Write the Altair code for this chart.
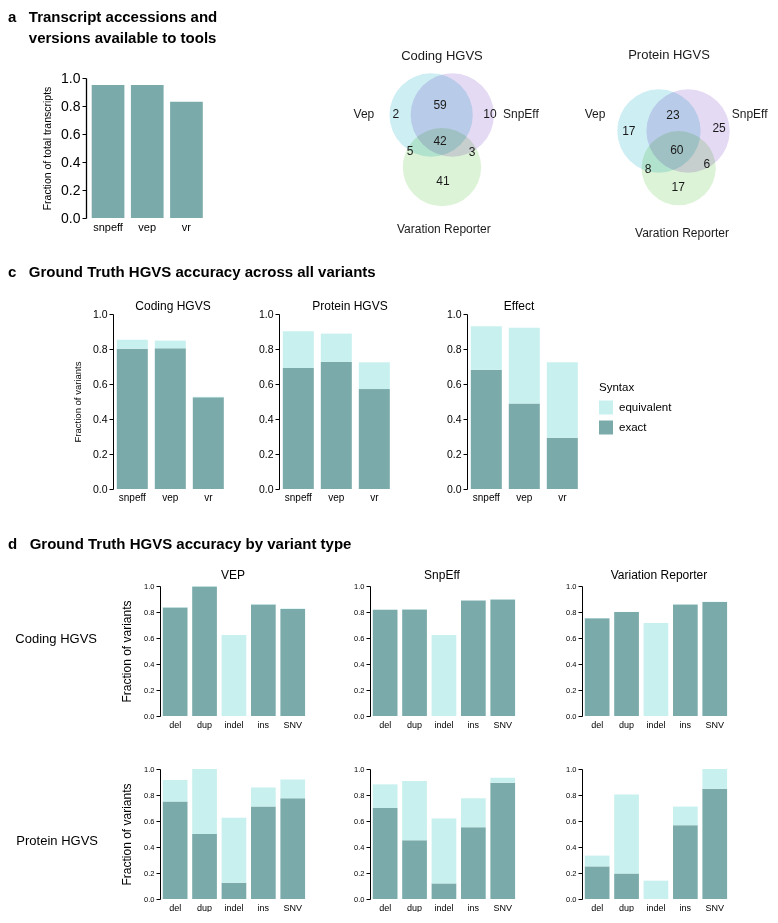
import math
import altair as alt
import pandas as pd

FONT = "Liberation Sans"
EXACT = "#7AABAA"
EQUIV = "#C8F0EE"
NB = "\u00a0"
ZW = "\u200b"

# ---------------- data ----------------
# panel a
a_tools = ["snpeff", "vep", "vr"]
a_fraction = [0.95, 0.95, 0.83]

# panel b (regions: Vep only, Vep&SnpEff, SnpEff only, all three, Vep&VR, SnpEff&VR, VR only)
venn_sets = ["Vep", "SnpEff", "Varation Reporter"]
coding_counts = [2, 59, 10, 42, 5, 3, 41]
protein_counts = [17, 23, 25, 60, 8, 6, 17]

# panel c
c_tools = ["snpeff", "vep", "vr"]
c_coding_exact = [0.802, 0.804, 0.524]
c_coding_total = [0.853, 0.848, 0.527]
c_protein_exact = [0.691, 0.726, 0.571]
c_protein_total = [0.901, 0.888, 0.724]
c_effect_exact = [0.682, 0.488, 0.293]
c_effect_total = [0.930, 0.922, 0.724]

# panel d
d_types = ["del", "dup", "indel", "ins", "SNV"]
d_vep_coding_exact = [0.835, 0.997, 0.0, 0.858, 0.823]
d_vep_coding_total = [0.838, 1.0, 0.623, 0.861, 0.826]
d_snpeff_coding_exact = [0.817, 0.820, 0.0, 0.889, 0.897]
d_snpeff_coding_total = [0.818, 0.822, 0.623, 0.890, 0.898]
d_vr_coding_exact = [0.751, 0.800, 0.0, 0.857, 0.876]
d_vr_coding_total = [0.753, 0.801, 0.716, 0.859, 0.878]
d_vep_protein_exact = [0.750, 0.500, 0.125, 0.712, 0.775]
d_vep_protein_total = [0.915, 1.0, 0.625, 0.858, 0.920]
d_snpeff_protein_exact = [0.700, 0.452, 0.120, 0.552, 0.895]
d_snpeff_protein_total = [0.882, 0.908, 0.620, 0.775, 0.932]
d_vr_protein_exact = [0.251, 0.196, 0.0, 0.568, 0.849]
d_vr_protein_total = [0.334, 0.804, 0.141, 0.711, 1.0]

# ---------------- layout / style helpers ----------------
R_PX = 47.0  # pixels per Venn radius unit


def band(width, n, step, inner, left):
    span = step * (n - inner)
    extra = max(width - span, 0.01)
    return alt.Scale(paddingInner=inner, paddingOuter=extra / (2 * step),
                     align=min(max(left / extra, 0.0), 1.0))


def y_axis(label_fs, title=None, title_fs=10, title_pad=8, dw=1):
    kw = dict(values=[0, 0.2, 0.4, 0.6, 0.8, 1.0], format=".1f", grid=False,
              domainColor="black", domainWidth=dw, tickColor="black", tickSize=4,
              tickWidth=1, labelFontSize=label_fs, labelColor="black", labelPadding=2,
              labelFont=FONT)
    if title:
        kw.update(title=title, titleFontSize=title_fs, titleFontWeight="normal",
                  titleColor="black", titlePadding=title_pad, titleFont=FONT)
    else:
        kw["title"] = None
    return alt.Axis(**kw)


def x_axis(fs, pad):
    return alt.Axis(title=None, domain=False, ticks=False, labelAngle=0, labelFontSize=fs,
                    labelPadding=pad, labelColor="black", labelFont=FONT)


def spacer(width, height, title=None, label=None, label_x=0, label_y=0):
    base = alt.Chart(pd.DataFrame({"t": [label or ""]}))
    if label:
        mk = base.mark_text(align="right", baseline="middle", fontSize=13, font=FONT,
                            color="black").encode(x=alt.value(label_x), y=alt.value(label_y),
                                                  text="t:N")
    else:
        mk = base.mark_point(opacity=0, size=1).encode(x=alt.value(10), y=alt.value(10))
    props = dict(width=width, height=height)
    if title is not None:
        props["title"] = title
    return mk.properties(**props)


def panel_title(lines, offset=34):
    return alt.TitleParams(text=lines, anchor="start", frame="group", fontSize=15,
                           fontWeight="bold", font=FONT, color="black",
                           offset=offset, lineHeight=21)


def sub_title(text, fs, dx=0, dy=0):
    return alt.TitleParams(text=text, anchor="middle", frame="group", fontSize=fs,
                           fontWeight="normal", font=FONT, color="black",
                           offset=0, dx=dx, dy=dy)


def stacked(cats, exact, total, width, height, scale, label_fs, xfs, xpad,
            title=None, ytitle=None, ytitle_fs=10, ytitle_pad=10, legend=None):
    rows = []
    for c, e, t in zip(cats, exact, total):
        rows.append({"cat": c, "syntax": "exact", "value": e, "ord": 0})
        rows.append({"cat": c, "syntax": "equivalent", "value": round(t - e, 4), "ord": 1})
    df = pd.DataFrame(rows)
    ch = alt.Chart(df).mark_bar().encode(
        x=alt.X("cat:N", sort=cats, scale=scale, axis=x_axis(xfs, xpad)),
        y=alt.Y("value:Q", stack="zero", scale=alt.Scale(domain=[0, 1], nice=False),
                axis=y_axis(label_fs, ytitle, ytitle_fs, ytitle_pad)),
        color=alt.Color("syntax:N", scale=alt.Scale(domain=["equivalent", "exact"],
                                                    range=[EQUIV, EXACT]), legend=legend),
        order=alt.Order("ord:Q", sort="ascending"),
    )
    props = dict(width=width, height=height)
    if title is not None:
        props["title"] = title
    return ch.properties(**props)


def venn(counts, circ, regions, labels, title, title_pos, x_lo, y_hi, width, height):
    xs = alt.Scale(domain=[x_lo, x_lo + width / R_PX], nice=False, zero=False)
    ys = alt.Scale(domain=[y_hi - height / R_PX, y_hi], nice=False, zero=False)
    cdf = pd.DataFrame({
        "cx": [c[0] for c in circ], "cy": [c[1] for c in circ],
        "area": [math.pi * (c[2] * R_PX) ** 2 for c in circ],
        "fill": ["#CDEEF3", "#E5DAF4", "#DDF3D7"],
    })
    circles = alt.Chart(cdf).mark_circle(opacity=1, blend="multiply").encode(
        x=alt.X("cx:Q", scale=xs, axis=None), y=alt.Y("cy:Q", scale=ys, axis=None),
        size=alt.Size("area:Q", scale=None, legend=None),
        color=alt.Color("fill:N", scale=None, legend=None))
    ndf = pd.DataFrame({"x": [r[0] for r in regions], "y": [r[1] for r in regions],
                        "t": [str(v) for v in counts]})
    nums = alt.Chart(ndf).mark_text(fontSize=12, font=FONT, color="#1a1a1a").encode(
        x=alt.X("x:Q", scale=xs, axis=None), y=alt.Y("y:Q", scale=ys, axis=None), text="t:N")
    ldf = pd.DataFrame({"x": [p[0] for p in labels] + [title_pos[0]],
                        "y": [p[1] for p in labels] + [title_pos[1]],
                        "t": venn_sets + [title], "fs": [12, 12, 12, 13]})
    labs = alt.Chart(ldf).mark_text(font=FONT, color="#1a1a1a").encode(
        x=alt.X("x:Q", scale=xs, axis=None), y=alt.Y("y:Q", scale=ys, axis=None),
        text="t:N", size=alt.Size("fs:Q", scale=None, legend=None))
    return alt.layer(circles, nums, labs).properties(width=width, height=height)


# ---------------- row A ----------------
HA = 183
sp_a = spacer(26, HA, title=panel_title([
    "a" + NB * 3 + "Transcript accessions and",
    ZW + NB * 5 + "versions available to tools"], offset=32))

a_df = pd.DataFrame({"tool": a_tools, "fraction": a_fraction})
chart_a = alt.Chart(a_df).mark_bar(color=EXACT).encode(
    x=alt.X("tool:N", sort=a_tools, scale=band(120, 3, 39.2, 0.166, 5.7), axis=x_axis(11, 3)),
    y=alt.Y("fraction:Q", scale=alt.Scale(domain=[0, 1], nice=False),
            axis=y_axis(14, "Fraction of total transcripts", 10.5, 8, dw=1.3)),
).properties(width=120, height=140)

venn_coding = venn(
    coding_counts,
    circ=[(-0.22, 0.0, 1.0), (0.23, 0.0, 1.0), (0.01, -1.11, 0.94)],
    regions=[(-0.97, 0.02), (-0.03, 0.21), (1.03, 0.02), (-0.03, -0.55),
             (-0.67, -0.77), (0.65, -0.79), (0.03, -1.40)],
    labels=[(-1.65, 0.02), (1.69, 0.02), (0.05, -2.43)],
    title="Coding HGVS", title_pos=(0.01, 1.26),
    x_lo=-3.904, y_hi=0.787, width=265, height=HA)

venn_protein = venn(
    protein_counts,
    circ=[(-0.31, 0.0, 1.0), (0.31, 0.0, 1.0), (0.11, -0.79, 0.89)],
    regions=[(-0.95, 0.0), (-0.01, 0.34), (0.97, 0.06), (0.07, -0.40),
             (-0.54, -0.81), (0.71, -0.70), (0.10, -1.19)],
    labels=[(-1.67, 0.36), (1.62, 0.36), (0.18, -2.17)],
    title="Protein HGVS", title_pos=(-0.096, 1.617),
    x_lo=-2.096, y_hi=1.128, width=192, height=HA)

row_a = alt.hconcat(sp_a, chart_a, venn_coding, venn_protein, spacing=52, bounds="flush")

# ---------------- row C ----------------
sp_c = spacer(53, 219, title=panel_title(
    "c" + NB * 3 + "Ground Truth HGVS accuracy across all variants"))

c_legend = alt.Legend(title="Syntax", orient="none", legendX=132, legendY=68,
                      symbolType="square", symbolSize=196, symbolStrokeWidth=0,
                      labelFontSize=11.5, titleFontSize=11.5, titleFontWeight="normal",
                      labelColor="black", titleColor="black", labelFont=FONT, titleFont=FONT,
                      titlePadding=7, rowPadding=6, labelOffset=6)

c_coding = stacked(c_tools, c_coding_exact, c_coding_total, 114, 175,
                   band(114, 3, 38, 0.184, 3.8), 10.5, 10, 3,
                   title=sub_title("Coding HGVS", 12, dx=3, dy=4),
                   ytitle="Fraction of variants", ytitle_fs=9.5, ytitle_pad=10)
c_protein = stacked(c_tools, c_protein_exact, c_protein_total, 136, 175,
                    band(136, 3, 38, 0.184, 3.8), 10.5, 10, 3,
                    title=sub_title("Protein HGVS", 12, dx=3, dy=4))
c_effect = stacked(c_tools, c_effect_exact, c_effect_total, 114, 175,
                   band(114, 3, 38, 0.184, 3.8), 10.5, 10, 3,
                   title=sub_title("Effect", 12, dx=-5, dy=4), legend=c_legend)

row_c = alt.hconcat(sp_c, c_coding, c_protein, c_effect, spacing=52, bounds="flush"
                    ).resolve_scale(color="independent").resolve_legend(color="independent")

# ---------------- rows D ----------------
DH = 130
sp_d1 = spacer(100, 175, title=panel_title(
    "d" + NB * 3 + "Ground Truth HGVS accuracy by variant type"),
    label="Coding HGVS", label_x=89, label_y=53)
sp_d2 = spacer(100, DH, label="Protein HGVS", label_x=90, label_y=72)


def dpanel(exact, total, width, title=None, ytitle=None):
    return stacked(d_types, exact, total, width, DH, band(width, 5, 29.4, 0.16, 2.8),
                   7.5, 9, 4, title=title, ytitle=ytitle, ytitle_fs=12, ytitle_pad=10)


d11 = dpanel(d_vep_coding_exact, d_vep_coding_total, 158,
             title=sub_title("VEP", 12, dx=-6, dy=0), ytitle="Fraction of variants")
d12 = dpanel(d_snpeff_coding_exact, d_snpeff_coding_total, 160,
             title=sub_title("SnpEff", 12, dx=-8, dy=0))
d13 = dpanel(d_vr_coding_exact, d_vr_coding_total, 148,
             title=sub_title("Variation Reporter", 12, dx=3, dy=0))
d21 = dpanel(d_vep_protein_exact, d_vep_protein_total, 158, ytitle="Fraction of variants")
d22 = dpanel(d_snpeff_protein_exact, d_snpeff_protein_total, 160)
d23 = dpanel(d_vr_protein_exact, d_vr_protein_total, 148)

row_d1 = alt.hconcat(sp_d1, d11, d12, d13, spacing=52, bounds="flush")
row_d2 = alt.hconcat(sp_d2, d21, d22, d23, spacing=52, bounds="flush")

chart = alt.vconcat(row_a, row_c, row_d1, row_d2, spacing=4).resolve_scale(
    color="independent").resolve_legend(color="independent").properties(
    padding={"top": 2, "bottom": 0, "left": 0, "right": 0}
).configure(font=FONT).configure_view(stroke=None)

chart.save("out.html", embed_options={"renderer": "svg", "actions": False})
